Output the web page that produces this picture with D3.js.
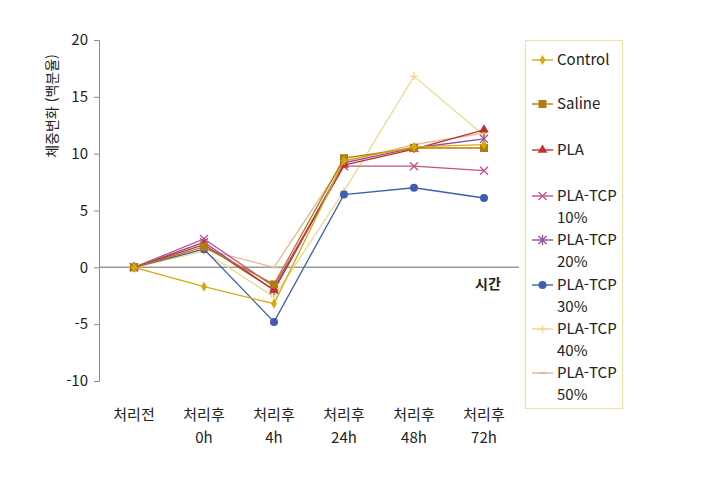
<!DOCTYPE html>
<html lang="ko">
<head>
<meta charset="UTF-8">
<title>체중변화</title>
<script src="https://cdn.jsdelivr.net/npm/d3@7"></script>
<style>
  body { margin: 0; background: #fff; }
  text { font-family: "Noto Sans CJK KR", "Noto Sans", sans-serif; fill: #222; }
</style>
</head>
<body>
<svg width="705" height="497"></svg>
<script>
// 데이터
var categories = ["처리전", "처리후\n0h", "처리후\n4h", "처리후\n24h", "처리후\n48h", "처리후\n72h"];
var yTicks = [-10, -5, 0, 5, 10, 15, 20];
var seriesNames = ["Control", "Saline", "PLA", "PLA-TCP\n10%", "PLA-TCP\n20%", "PLA-TCP\n30%", "PLA-TCP\n40%", "PLA-TCP\n50%"];
var control = [0, -1.7, -3.2, 9.4, 10.6, 10.8];
var saline = [0, 1.8, -1.5, 9.6, 10.5, 10.5];
var pla = [0, 2.0, -2.0, 9.0, 10.4, 12.1];
var tcp10 = [0, 2.5, -1.7, 8.9, 8.9, 8.5];
var tcp20 = [0, 2.2, -2.0, 9.2, 10.5, 11.3];
var tcp30 = [0, 1.6, -4.8, 6.4, 7.0, 6.1];
var tcp40 = [0, 1.4, -2.6, 6.7, 16.8, 11.6];
var tcp50 = [0, 1.6, 0.0, 9.3, 10.8, 11.8];

var allValues = [control, saline, pla, tcp10, tcp20, tcp30, tcp40, tcp50];
var colors = ["#D4A90E", "#B37A12", "#C0302A", "#C2508A", "#8A4FA0", "#3F5EAE", "#F0D890", "#E8B493"];
var symbols = ["diamond", "square", "triangle", "x", "asterisk", "circle", "plus", "dash"];

var svg = d3.select("svg");
var margin = {left: 99, right: 186, top: 40, bottom: 116};
var W = 705, H = 497;

var x = d3.scaleBand().domain(d3.range(categories.length)).range([margin.left, W - margin.right]);
var y = d3.scaleLinear().domain([-10, 20]).range([H - margin.bottom, margin.top]);

// y 축
var yAxis = d3.axisLeft(y).tickValues(yTicks).tickSize(5).tickPadding(6)
  .tickFormat(function (d) { return String(d); });
var gy = svg.append("g").attr("transform", "translate(" + margin.left + ",0)").call(yAxis);
gy.select(".domain").attr("stroke", "#8a8a8a");
gy.selectAll(".tick line").attr("stroke", "#8a8a8a");
gy.selectAll(".tick text").style("font-size", "15px").attr("fill", "#222");

// 0 기준선
svg.append("line")
  .attr("x1", margin.left).attr("x2", W - margin.right)
  .attr("y1", y(0)).attr("y2", y(0))
  .attr("stroke", "#9a9a9a").attr("stroke-width", 1.5);

// x 라벨
categories.forEach(function (c, i) {
  var lines = c.split("\n");
  var t = svg.append("text")
    .attr("x", x(i) + x.bandwidth() / 2)
    .attr("y", 420)
    .attr("text-anchor", "middle")
    .style("font-size", "15px")
    .attr("fill", "#333");
  lines.forEach(function (l, j) {
    t.append("tspan").attr("x", x(i) + x.bandwidth() / 2).attr("dy", j === 0 ? 0 : 23).text(l);
  });
});

svg.append("text").attr("x", 488).attr("y", 289).attr("text-anchor", "middle")
  .style("font-size", "14px").style("font-weight", "bold").attr("fill", "#222").text("시간");

svg.append("text")
  .attr("transform", "translate(57,106) rotate(-90)")
  .attr("text-anchor", "middle")
  .style("font-size", "14px")
  .attr("fill", "#222")
  .text("체중변화 (백분율)");

function drawMarker(g, type, cx, cy, color) {
  var s = 4;
  if (type === "diamond") {
    g.append("path").attr("d", d3.symbol(d3.symbolDiamond, 30)()).attr("transform", "translate(" + cx + "," + cy + ")").attr("fill", color);
  } else if (type === "square") {
    g.append("rect").attr("x", cx - 4).attr("y", cy - 4).attr("width", 8).attr("height", 8).attr("fill", color);
  } else if (type === "triangle") {
    g.append("path").attr("d", d3.symbol(d3.symbolTriangle, 40)()).attr("transform", "translate(" + cx + "," + cy + ")").attr("fill", color);
  } else if (type === "circle") {
    g.append("circle").attr("cx", cx).attr("cy", cy).attr("r", 4).attr("fill", color);
  } else if (type === "x" || type === "asterisk") {
    g.append("path").attr("d", "M" + (cx - s) + "," + (cy - s) + "L" + (cx + s) + "," + (cy + s) + "M" + (cx - s) + "," + (cy + s) + "L" + (cx + s) + "," + (cy - s))
      .attr("stroke", color).attr("stroke-width", 1.3);
    if (type === "asterisk") {
      g.append("path").attr("d", "M" + cx + "," + (cy - s - 1) + "L" + cx + "," + (cy + s + 1)).attr("stroke", color).attr("stroke-width", 1.3);
    }
  } else if (type === "plus") {
    g.append("path").attr("d", "M" + (cx - s) + "," + cy + "L" + (cx + s) + "," + cy + "M" + cx + "," + (cy - s) + "L" + cx + "," + (cy + s))
      .attr("stroke", color).attr("stroke-width", 1.3);
  } else if (type === "dash") {
    g.append("path").attr("d", "M" + (cx - 3) + "," + cy + "L" + (cx + 3) + "," + cy).attr("stroke", color).attr("stroke-width", 2);
  }
}

var line = d3.line()
  .x(function (d, i) { return x(i) + x.bandwidth() / 2; })
  .y(function (d) { return y(d); });

// 선 그리기 (뒤에서부터)
for (var k = allValues.length - 1; k >= 0; k--) {
  var g = svg.append("g");
  g.append("path").attr("d", line(allValues[k])).attr("fill", "none")
    .attr("stroke", colors[k]).attr("stroke-width", 1.3);
  allValues[k].forEach(function (v, i) {
    drawMarker(g, symbols[k], x(i) + x.bandwidth() / 2, y(v), colors[k]);
  });
}

// 범례
svg.append("rect").attr("x", 525.5).attr("y", 40.5).attr("width", 97).attr("height", 368)
  .attr("fill", "none").attr("stroke", "#F0E3A8").attr("stroke-width", 1.3);

var legendY = [60, 104, 150, 196, 240, 285, 329, 373];
seriesNames.forEach(function (n, k) {
  var ly = legendY[k];
  var g = svg.append("g");
  g.append("line").attr("x1", 532).attr("x2", 553).attr("y1", ly).attr("y2", ly)
    .attr("stroke", colors[k]).attr("stroke-width", 1.4);
  drawMarker(g, symbols[k], 542.5, ly, colors[k]);
  var t = g.append("text").attr("x", 557).attr("y", ly + 5).style("font-size", "15px").attr("fill", "#222");
  n.split("\n").forEach(function (l, j) {
    t.append("tspan").attr("x", 557).attr("dy", j === 0 ? 0 : 22).text(l);
  });
});
</script>
</body>
</html>
